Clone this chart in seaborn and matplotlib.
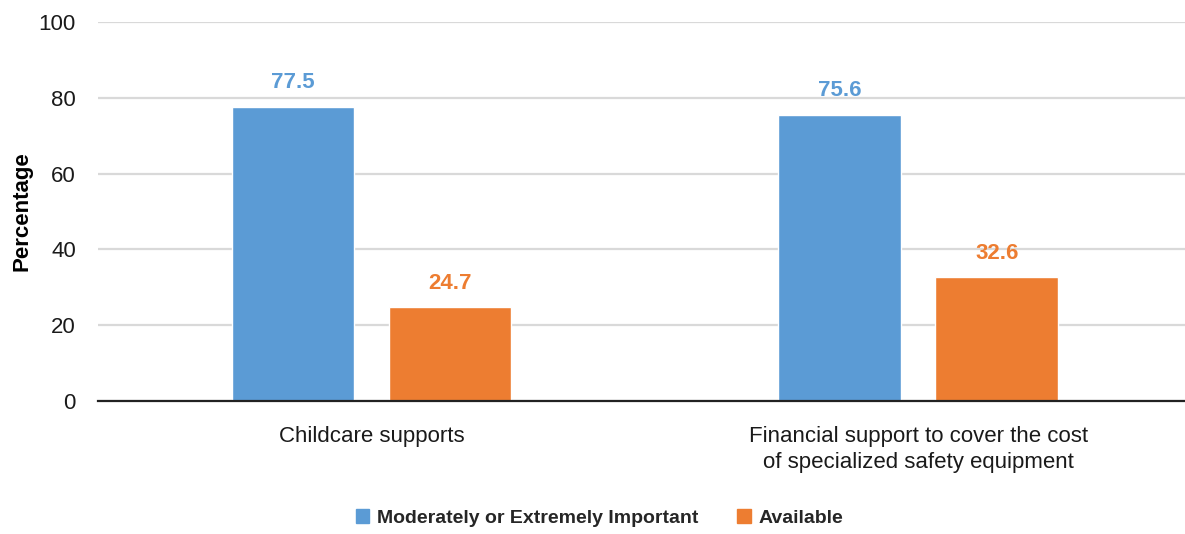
import matplotlib
matplotlib.use("Agg")
import matplotlib.pyplot as plt
from matplotlib import font_manager
import seaborn as sns
import pandas as pd

categories = ["Childcare supports",
              "Financial support to cover the cost\nof specialized safety equipment"]
series_names = ["Moderately or Extremely Important", "Available"]
important = [77.5, 75.6]
available = [24.7, 32.6]
y_ticks = [0, 20, 40, 60, 80, 100]

colors = ["#5B9BD5", "#ED7D31"]

sns.set_theme(style="white")
names = {f.name for f in font_manager.fontManager.ttflist}
family = "Liberation Sans Narrow" if "Liberation Sans Narrow" in names else "Liberation Sans"
plt.rcParams["font.family"] = [family, "DejaVu Sans"]

df = pd.DataFrame({
    "category": categories * 2,
    "series": [series_names[0]] * 2 + [series_names[1]] * 2,
    "value": important + available,
})

fig = plt.figure(figsize=(11.85, 5.34), dpi=100)
ax = fig.add_axes([0.0827, 0.249, 0.923, 0.7097])

sns.barplot(data=df, x="category", y="value", hue="series",
            order=categories, hue_order=series_names,
            palette=colors, width=0.574, gap=0.218, saturation=1,
            ax=ax, legend=False)

ax.set_ylim(0, 100)
ax.set_xlim(-0.5, 1.5)
ax.set_yticks(y_ticks)
ax.set_yticklabels([str(t) for t in y_ticks], fontsize=16, color="#1a1a1a")
ax.tick_params(axis="x", labelsize=16, colors="#1a1a1a", length=0, pad=18)
ax.tick_params(axis="y", length=0, pad=16)
for lbl in ax.get_xticklabels():
    lbl.set_linespacing(1.3)
ax.yaxis.grid(True, color="#D9D9D9", linewidth=1.6)
ax.set_axisbelow(True)
for s in ["top", "right", "left"]:
    ax.spines[s].set_visible(False)
ax.spines["bottom"].set_color("#222222")
ax.spines["bottom"].set_linewidth(1.6)

ax.set_xlabel("")
ax.set_ylabel("Percentage", fontsize=16, fontweight="bold", color="#000000", labelpad=4)

for container, col in zip(ax.containers, colors):
    ax.bar_label(container, fmt="%.1f", padding=10, fontsize=16,
                 fontweight="bold", color=col)

handles = [plt.Rectangle((0, 0), 1, 1, color=c) for c in colors]
fig.legend(handles, series_names, loc="center", bbox_to_anchor=(0.506, 0.03),
           ncol=2, frameon=False, prop={"size": 14, "weight": "bold"},
           handlelength=0.7, handleheight=0.7, handletextpad=0.4,
           columnspacing=2.0)

fig.savefig("out.png", dpi=100)
